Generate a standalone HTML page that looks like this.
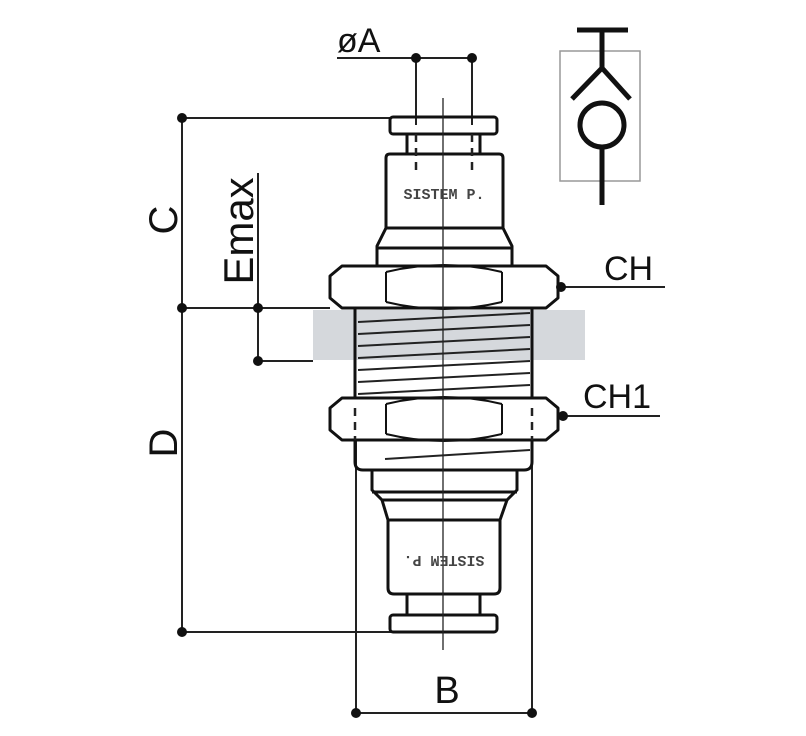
<!DOCTYPE html>
<html><head><meta charset="utf-8"><style>html,body{margin:0;padding:0;background:#fff}svg{display:block}</style></head>
<body>
<svg width="806" height="736" viewBox="0 0 806 736" xmlns="http://www.w3.org/2000/svg">
<rect width="806" height="736" fill="#fff"/>
<rect x="560" y="51" width="80" height="130" fill="none" stroke="#999" stroke-width="1.5"/>
<g stroke="#111" stroke-width="5" fill="none" stroke-linecap="butt">
<line x1="577" y1="30" x2="628" y2="30"/>
<line x1="602" y1="30" x2="602" y2="70"/>
<polyline points="572,99 602,68 630,99"/>
<circle cx="602" cy="125" r="22"/>
<line x1="602" y1="147" x2="602" y2="205"/>
</g>
<rect x="313" y="310" width="272" height="50" fill="#d5d8dc"/>
<g stroke="#222" stroke-width="2" fill="none">
<line x1="337" y1="58" x2="473" y2="58"/>
<line x1="416" y1="58" x2="416" y2="125"/>
<line x1="472" y1="58" x2="472" y2="125"/>
<line x1="182" y1="118" x2="182" y2="632"/>
<line x1="182" y1="118" x2="392" y2="118"/>
<line x1="182" y1="308" x2="330" y2="308"/>
<line x1="182" y1="632" x2="392" y2="632"/>
<line x1="258" y1="173" x2="258" y2="361"/>
<line x1="258" y1="361" x2="313" y2="361"/>
<line x1="356" y1="440" x2="356" y2="713"/>
<line x1="532" y1="440" x2="532" y2="713"/>
<line x1="356" y1="713" x2="532" y2="713"/>
<line x1="560" y1="287" x2="665" y2="287"/>
<line x1="562" y1="416" x2="660" y2="416"/>
</g>
<g fill="#111">
<circle cx="416" cy="58" r="5"/><circle cx="472" cy="58" r="5"/>
<circle cx="182" cy="118" r="5"/><circle cx="182" cy="308" r="5"/><circle cx="182" cy="632" r="5"/>
<circle cx="258" cy="308" r="5"/><circle cx="258" cy="361" r="5"/>
<circle cx="356" cy="713" r="5"/><circle cx="532" cy="713" r="5"/>
<circle cx="561" cy="287" r="5"/><circle cx="563" cy="416" r="5"/>
</g>
<g stroke="#111" stroke-width="3" fill="none" stroke-linejoin="round">
<rect x="390" y="117" width="107" height="17" rx="3"/>
<line x1="407" y1="134" x2="407" y2="154"/><line x1="480" y1="134" x2="480" y2="154"/>
<path d="M386,228 V158 q0,-4 4,-4 H499 q4,0 4,4 V228"/>
<path d="M386,228 L377,246 V266 M503,228 L512,246 V266"/>
<line x1="386" y1="228" x2="503" y2="228"/>
<line x1="377" y1="248" x2="512" y2="248"/>
<path d="M342,266 H546 L558,276 V298 L546,308 H342 L330,298 V276 Z"/>
<path d="M386,272 V302 M502,272 V302" stroke-width="2"/>
<path d="M386,272 Q444,258 502,272 M386,302 Q444,316 502,302" stroke-width="2"/>
<line x1="355" y1="308" x2="355" y2="398"/><line x1="532" y1="308" x2="532" y2="398"/>
<path d="M342,398 H546 L558,408 V430 L546,440 H342 L330,430 V408 Z"/>
<path d="M386,404 V434 M502,404 V434" stroke-width="2"/>
<path d="M386,404 Q444,390 502,404 M386,434 Q444,448 502,434" stroke-width="2"/>
<path d="M355,440 V462 q0,8 8,8 H524 q8,0 8,-8 V440"/>
<path d="M372,470 V490 L382,500 H507 L517,490 V470"/>
<path d="M382,500 L388,520 H500 L507,500"/>
<line x1="372" y1="492" x2="517" y2="492"/>
<path d="M388,520 V588 q0,6 6,6 H494 q6,0 6,-6 V520"/>
<line x1="407" y1="594" x2="407" y2="615"/><line x1="480" y1="594" x2="480" y2="615"/>
<rect x="390" y="615" width="107" height="17" rx="3"/>
</g>
<g stroke="#222" stroke-width="2">
<line x1="358" y1="322" x2="530" y2="313"/>
<line x1="358" y1="334" x2="530" y2="325"/>
<line x1="358" y1="346" x2="530" y2="337"/>
<line x1="358" y1="358" x2="530" y2="349"/>
<line x1="358" y1="370" x2="530" y2="361"/>
<line x1="358" y1="382" x2="530" y2="373"/>
<line x1="358" y1="394" x2="530" y2="385"/>
<line x1="385" y1="459" x2="530" y2="450"/>
</g>
<g stroke="#222" stroke-width="2.5" stroke-dasharray="8,6">
<line x1="416" y1="134" x2="416" y2="176"/><line x1="472" y1="134" x2="472" y2="176"/>
<line x1="355" y1="408" x2="355" y2="440"/><line x1="532" y1="408" x2="532" y2="440"/>
</g>
<line x1="443" y1="98" x2="443" y2="650" stroke="#222" stroke-width="1.3"/>
<g font-family="Liberation Mono, monospace" font-size="15" font-weight="bold" fill="#444">
<text x="444" y="199" text-anchor="middle">SISTEM P.</text>
<text x="444" y="556" text-anchor="middle" transform="rotate(180 444 556)">SISTEM P.</text>
</g>
<g font-family="Liberation Sans, DejaVu Sans, sans-serif" fill="#111">
<text x="337" y="52" font-size="34">øA</text>
<text x="604" y="280" font-size="34">CH</text>
<text x="583" y="408" font-size="34">CH1</text>
<text x="447" y="703" font-size="38" text-anchor="middle">B</text>
<text transform="translate(177 220) rotate(-90)" font-size="40" text-anchor="middle">C</text>
<text transform="translate(177 443) rotate(-90)" font-size="40" text-anchor="middle">D</text>
<text transform="translate(253 231) rotate(-90)" font-size="42" text-anchor="middle">Emax</text>
</g>
</svg>
</body></html>
